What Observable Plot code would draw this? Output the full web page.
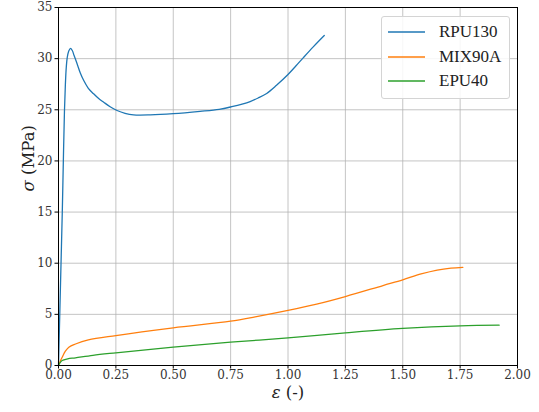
<!DOCTYPE html>
<html>
<head>
<meta charset="utf-8">
<script src="https://cdn.jsdelivr.net/npm/d3@7"></script>
<script src="https://cdn.jsdelivr.net/npm/@observablehq/plot@0.6"></script>
<style>
  html, body { margin: 0; padding: 0; background: white; }
  #wrap { position: relative; width: 539px; height: 412px; font-family: Liberation Serif, serif; }
  #wrap svg text { font-family: "DejaVu Serif", serif; }
  #legend { position: absolute; left: 381px; top: 16px; width: 127px; height: 81px;
            border: 1px solid #d4d4d4; border-radius: 3px; background: rgba(255,255,255,0.85); }
  .row { position: absolute; left: 0; height: 20px; }
  .row svg { position: absolute; left: 5px; top: 0; }
  .row span { position: absolute; left: 57px; top: 0; line-height: 20px; font-size: 17px; color: #222; white-space: nowrap; }
</style>
</head>
<body>
<div id="wrap"></div>
<script>
// ---- data ----
const seriesNames = ["RPU130", "MIX90A", "EPU40"];
const seriesColors = ["#1f77b4", "#ff7f0e", "#2ca02c"];

const rpuStrain = [0, 0.0055, 0.011, 0.0165, 0.022, 0.026, 0.030, 0.034, 0.038, 0.044, 0.052, 0.060, 0.068, 0.081, 0.095, 0.110, 0.130, 0.153, 0.175, 0.197, 0.225, 0.255, 0.290, 0.327, 0.400, 0.500, 0.617, 0.700, 0.755, 0.800, 0.835, 0.870, 0.907, 0.950, 1.000, 1.035, 1.067, 1.110, 1.158];
const rpuStress = [0, 5, 10, 15, 21, 24.9, 27.5, 29.2, 30.1, 30.7, 31.0, 30.8, 30.3, 29.5, 28.6, 27.86, 27.1, 26.56, 26.1, 25.74, 25.3, 24.93, 24.65, 24.5, 24.5, 24.62, 24.85, 25.05, 25.3, 25.55, 25.8, 26.15, 26.6, 27.4, 28.45, 29.3, 30.1, 31.15, 32.26];

const mixStrain = [0, 0.005, 0.016, 0.030, 0.045, 0.074, 0.130, 0.250, 0.500, 0.750, 0.857, 1.000, 1.125, 1.250, 1.414, 1.500, 1.580, 1.650, 1.710, 1.762];
const mixStress = [0, 0.30, 0.81, 1.40, 1.79, 2.10, 2.50, 2.93, 3.68, 4.33, 4.75, 5.38, 6.00, 6.74, 7.82, 8.38, 8.95, 9.33, 9.52, 9.60];

const epuStrain = [0, 0.005, 0.016, 0.040, 0.074, 0.150, 0.250, 0.500, 0.750, 1.000, 1.250, 1.500, 1.750, 1.920];
const epuStress = [0, 0.20, 0.49, 0.65, 0.75, 1.00, 1.24, 1.79, 2.28, 2.70, 3.19, 3.62, 3.88, 3.94];

const xTicks = [0, 0.25, 0.5, 0.75, 1.0, 1.25, 1.5, 1.75, 2.0];
const yTicks = [0, 5, 10, 15, 20, 25, 30, 35];

// ---- build ----
const toRows = (xs, ys, name) => xs.map((e, i) => ({e, s: ys[i], name}));
const rpu = toRows(rpuStrain, rpuStress, seriesNames[0]);
const mix = toRows(mixStrain, mixStress, seriesNames[1]);
const epu = toRows(epuStrain, epuStress, seriesNames[2]);

const serif = "DejaVu Serif";

const chart = Plot.plot({
  width: 539, height: 412,
  marginLeft: 58, marginRight: 22, marginTop: 7, marginBottom: 47,
  style: {background: "white", color: "#222"},
  x: {domain: [0, 2]},
  y: {domain: [0, 35]},
  marks: [
    Plot.gridX(xTicks, {stroke: "#b0b0b0", strokeOpacity: 0.75, strokeWidth: 1}),
    Plot.gridY(yTicks, {stroke: "#b0b0b0", strokeOpacity: 0.75, strokeWidth: 1}),
    Plot.line(rpu, {x: "e", y: "s", stroke: seriesColors[0], strokeWidth: 1.3, curve: "catmull-rom"}),
    Plot.line(mix, {x: "e", y: "s", stroke: seriesColors[1], strokeWidth: 1.3, curve: "catmull-rom"}),
    Plot.line(epu, {x: "e", y: "s", stroke: seriesColors[2], strokeWidth: 1.3, curve: "catmull-rom"}),
    Plot.frame({stroke: "black", strokeWidth: 1}),
    Plot.axisX(xTicks, {tickFormat: d3.format(".2f"), tickSize: 3.5, tickPadding: 1.5, label: null, stroke: "black", fontSize: 12, fontFamily: serif, fill: "#333"}),
    Plot.axisY(yTicks, {tickSize: 3.5, tickPadding: 2.5, label: null, stroke: "black", fontSize: 12, fontFamily: serif, fill: "#333"}),
    Plot.text(["σ (MPa)"], {frameAnchor: "left", dx: -30, dy: 5, rotate: -90, fontSize: 16.5, fill: "#222", fontFamily: serif}),
    Plot.text(["ε (-)"], {frameAnchor: "bottom", dy: 32, fontSize: 16.5, fill: "#222", fontFamily: serif})
  ]
});

const wrap = document.getElementById("wrap");
wrap.appendChild(chart);

// italic math symbols
d3.select(chart).selectAll("text").each(function() {
  const t = this.textContent;
  if (t === "σ (MPa)") this.innerHTML = '<tspan font-style="italic">σ</tspan> (MPa)';
  if (t === "ε (-)") this.innerHTML = '<tspan font-style="italic">ε</tspan> (-)';
});

// legend
const legend = document.createElement("div");
legend.id = "legend";
seriesNames.forEach((name, i) => {
  const row = document.createElement("div");
  row.className = "row";
  row.style.top = (5 + i * 24.5) + "px";
  row.innerHTML = `<svg width="40" height="20"><line x1="1" x2="38" y1="10" y2="10" stroke="${seriesColors[i]}" stroke-width="1.4"/></svg><span>${name}</span>`;
  legend.appendChild(row);
});
wrap.appendChild(legend);
</script>
</body>
</html>
